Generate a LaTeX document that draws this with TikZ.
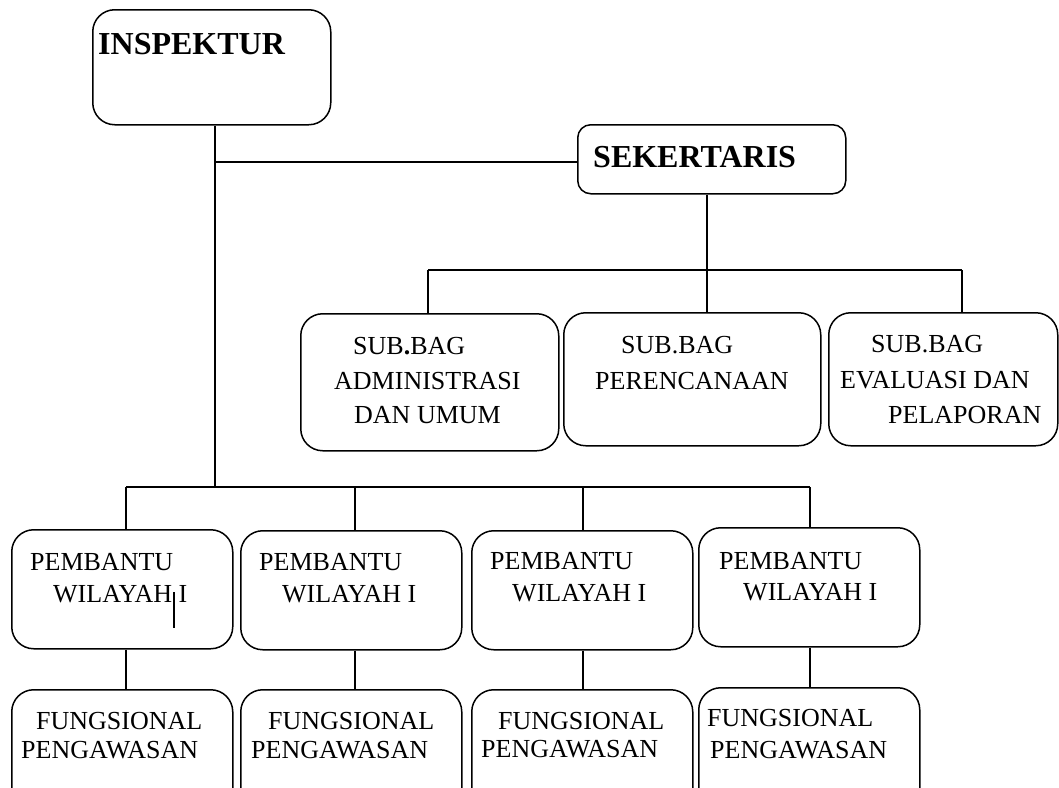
\documentclass[tikz,border=0pt]{standalone}
\usepackage{fontspec}
\setmainfont{Liberation Serif}
\usetikzlibrary{positioning}

\tikzset{
	box/.style={draw, rounded corners=22pt, line width=1.5pt, inner sep=0pt, anchor=north west},
	txt/.style={anchor=base west, inner sep=0pt, font=\fontsize{26}{30}\selectfont},
	head/.style={anchor=base west, inner sep=0pt, font=\fontsize{32}{36}\selectfont\bfseries},
	link/.style={line width=1.5pt}
}

\begin{document}
\begin{tikzpicture}[x=1pt,y=-1pt]
	\useasboundingbox (0,0) rectangle (1059,787);
	\clip (0,0) rectangle (1059,787);
	% pimpinan
	\node[box, minimum width=238pt, minimum height=115pt] (insp) at (92,9) {};
	\node[head] (inspT) at (98,54) {INSPEKTUR};
	\node[box, rounded corners=13pt, minimum width=268pt, minimum height=69pt] (sek) at (577,124) {};
	\node[head] (sekT) at (593,167) {SEKERTARIS};
	% sub bagian
	\node[box, minimum width=258pt, minimum height=137pt] (sub1) at (300,313) {};
	\node[box, minimum width=257pt, minimum height=133pt] (sub2) at (563,312) {};
	\node[box, minimum width=229pt, minimum height=133pt] (sub3) at (828,312) {};
	\foreach \n/\x/\y/\t in {s1a/353/354/{SUB\textbf{.}BAG}, s1b/334/389/ADMINISTRASI, s1c/354/423/{DAN UMUM},
		s2a/621/353/{SUB.BAG}, s2b/595/389/PERENCANAAN,
		s3a/871/352/{SUB.BAG}, s3b/840/388/{EVALUASI DAN}, s3c/888/423/PELAPORAN}
	\node[txt] (\n) at (\x,\y) {\t};
	% pembantu dan fungsional
	\foreach \i/\l/\t/\f in {1/11/529/689, 2/240/530/689, 3/471/530/689, 4/698/527/687}
	{
		\node[box, minimum width=221pt, minimum height=119pt] (pb\i) at (\l,\t) {};
		\node[box, minimum width=221pt, minimum height=140pt] (fg\i) at (\l,\f) {};
	}
	\foreach \i/\ax/\ay/\bx/\by/\cx/\cy/\dx/\dy in {1/30/570/53/602/36/729/21/758,
		2/259/570/282/602/268/729/251/758,
		3/490/569/512/601/498/729/481/757,
		4/719/569/743/600/707/726/710/758}
	{
		\node[txt] (pbA\i) at (\ax,\ay) {PEMBANTU};
		\node[txt] (pbB\i) at (\bx,\by) {WILAYAH I};
		\node[txt] (fgA\i) at (\cx,\cy) {FUNGSIONAL};
		\node[txt] (fgB\i) at (\dx,\dy) {PENGAWASAN};
	}
	% garis komando
	\coordinate (jS) at (215,162);
	\coordinate (jP) at (215,487);
	\draw[link] (insp.south -| jS) -- (jP);
	\draw[link] (jS) -- (jS -| sek.west);
	\coordinate (jB) at (707,270);
	\draw[link] (sek.south -| jB) -- (jB);
	\coordinate (u1) at (428,270);
	\coordinate (u3) at (962,270);
	\draw[link] (u1) -- (u3);
	\draw[link] (u1) -- (u1 |- sub1.north);
	\draw[link] (jB) -- (jB |- sub2.north);
	\draw[link] (u3) -- (u3 |- sub3.north);
	\foreach \i/\s in {1/126, 2/355, 3/583, 4/810}
	{
		\coordinate (b\i) at (\s,487);
		\draw[link] (b\i) -- (b\i |- pb\i.north);
		\draw[link] (pb\i.south -| b\i) -- (fg\i.north -| b\i);
	}
	\draw[link] (b1) -- (b4);
	% coretan kecil
	\coordinate (mark) at (174,592);
	\draw[line width=1.2pt] (mark) -- ++(0,36);
\end{tikzpicture}
\end{document}
